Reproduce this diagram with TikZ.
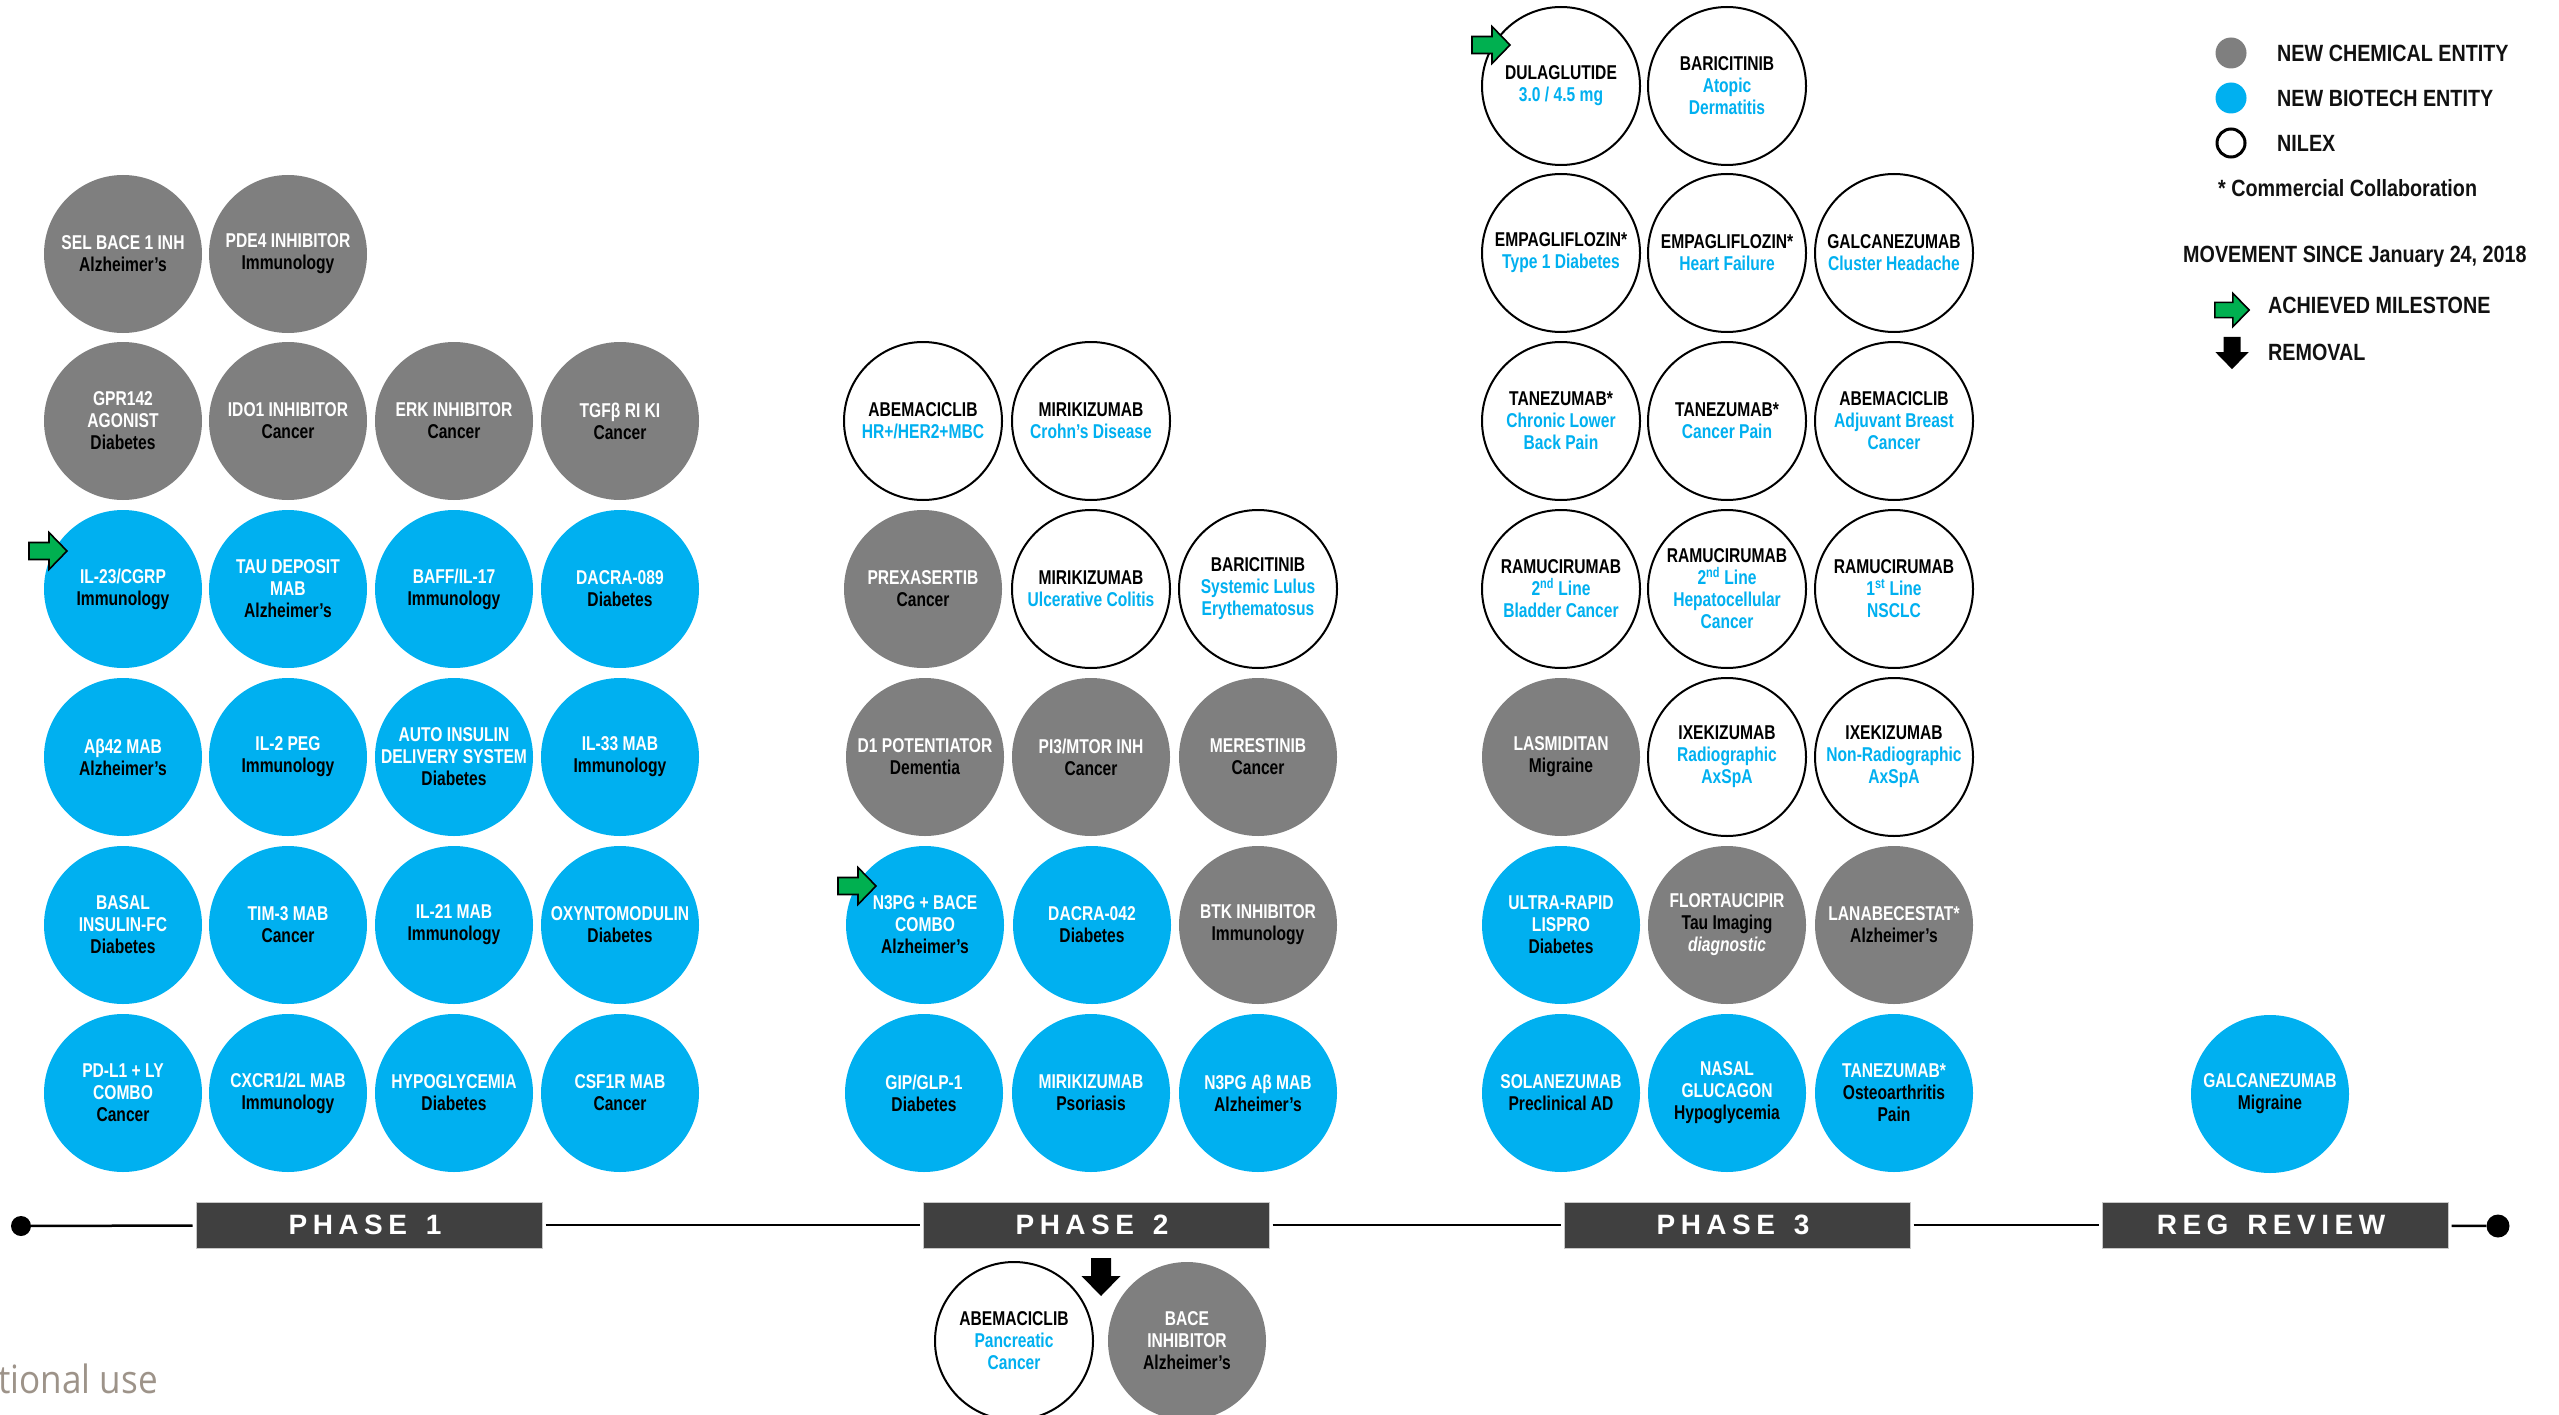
\documentclass[tikz,border=0pt]{standalone}
\usepackage{fontspec}
\newfontfamily\cf{Liberation Sans}[FakeStretch=0.78]
\newfontfamily\lf{Liberation Sans}[FakeStretch=0.84]
\newfontfamily\pf{Liberation Sans}
\newfontfamily\ff{Open Sans}[FakeStretch=0.9]
\definecolor{nceGray}{HTML}{7F7F7F}
\definecolor{nbeBlue}{HTML}{00B0F0}
\definecolor{txtBlue}{HTML}{00B0F0}
\definecolor{arrowGreen}{HTML}{00B050}
\definecolor{boxDark}{HTML}{404040}
\definecolor{boxEdge}{HTML}{C8C8C8}
\definecolor{legText}{HTML}{111111}
\definecolor{footGray}{HTML}{9D9389}
\newcommand\txW[1]{\textcolor{white}{#1}}
\newcommand\txK[1]{\textcolor{black}{#1}}
\newcommand\txB[1]{\textcolor{txtBlue}{#1}}
\newcommand\lsk{\kern5.5pt}
\begin{document}
\begin{tikzpicture}[x=1pt,y=-1pt]
\tikzset{
  pill/.style={circle, minimum size=158pt, inner sep=0pt, align=center, font=\cf\bfseries\fontsize{20}{22}\selectfont},
  nce/.style={pill, fill=nceGray},
  nbe/.style={pill, fill=nbeBlue},
  nilex/.style={pill, draw=black, line width=2pt, fill=white},
  phasebox/.style={rectangle, fill=boxDark, draw=boxEdge, line width=1pt, minimum width=346pt, minimum height=46pt, inner sep=0pt, text=white, font=\pf\bfseries\fontsize{28}{30}\selectfont, execute at end node={\kern8pt}},
  tl/.style={line width=2.5pt, black},
  enddot/.style={circle, fill=black, inner sep=0pt},
  legtext/.style={anchor=west, inner sep=0pt, text=legText, font=\lf\bfseries\fontsize{23.5}{26}\selectfont},
  milestone/.pic={\draw[fill=arrowGreen, line width=1.6pt, line join=miter] (-19,-8.5) -- (1,-8.5) -- (1,-18.5) -- (19,0) -- (1,18.5) -- (1,8.5) -- (-19,8.5) -- cycle;},
  removal/.pic={\fill[black] (-10,-19) -- (10,-19) -- (10,-1) -- (19.5,-1) -- (0,19) -- (-19.5,-1) -- (-10,-1) -- cycle;},
}
\useasboundingbox (0,0) rectangle (2559,1415);

% ---------------- PHASE 1 ----------------
\node[nce] (a1) at (123,254) {\txW{SEL BACE 1 INH}\\\txK{Alzheimer’s}};
\node[nce] (a2) at (288,254) {\txW{PDE4 INHIBITOR}\\\txK{Immunology}};

\node[nce] (b1) at (123,421) {\txW{GPR142}\\\txW{AGONIST}\\\txK{Diabetes}};
\node[nce] (b2) at (288,421) {\txW{IDO1 INHIBITOR}\\\txK{Cancer}};
\node[nce] (b3) at (454,421) {\txW{ERK INHIBITOR}\\\txK{Cancer}};
\node[nce] (b4) at (620,421) {\txW{TGFβ RI KI}\\\txK{Cancer}};

\node[nbe] (c1) at (123,589) {\txW{IL-23/CGRP}\\\txK{Immunology}};
\node[nbe] (c2) at (288,589) {\txW{TAU DEPOSIT}\\\txW{MAB}\\\txK{Alzheimer’s}};
\node[nbe] (c3) at (454,589) {\txW{BAFF/IL-17}\\\txK{Immunology}};
\node[nbe] (c4) at (620,589) {\txW{DACRA-089}\\\txK{Diabetes}};

\node[nbe] (d1) at (123,757) {\txW{Aβ42 MAB}\\\txK{Alzheimer’s}};
\node[nbe] (d2) at (288,757) {\txW{IL-2 PEG}\\\txK{Immunology}};
\node[nbe] (d3) at (454,757) {\txW{AUTO INSULIN}\\\txW{DELIVERY SYSTEM}\\\txK{Diabetes}};
\node[nbe] (d4) at (620,757) {\txW{IL-33 MAB}\\\txK{Immunology}};

\node[nbe] (e1) at (123,925) {\txW{BASAL}\\\txW{INSULIN-FC}\\\txK{Diabetes}};
\node[nbe] (e2) at (288,925) {\txW{TIM-3 MAB}\\\txK{Cancer}};
\node[nbe] (e3) at (454,925) {\txW{IL-21 MAB}\\\txK{Immunology}};
\node[nbe] (e4) at (620,925) {\txW{OXYNTOMODULIN}\\\txK{Diabetes}};

\node[nbe] (f1) at (123,1093) {\txW{PD-L1 + LY}\\\txW{COMBO}\\\txK{Cancer}};
\node[nbe] (f2) at (288,1093) {\txW{CXCR1/2L MAB}\\\txK{Immunology}};
\node[nbe] (f3) at (454,1093) {\txW{HYPOGLYCEMIA}\\\txK{Diabetes}};
\node[nbe] (f4) at (620,1093) {\txW{CSF1R MAB}\\\txK{Cancer}};

% ---------------- PHASE 2 ----------------
\node[nilex] (g1) at (923,421) {\txK{ABEMACICLIB}\\\txB{HR+/HER2+MBC}};
\node[nilex] (g2) at (1091,421) {\txK{MIRIKIZUMAB}\\\txB{Crohn’s Disease}};

\node[nce] (h1) at (923,589) {\txW{PREXASERTIB}\\\txK{Cancer}};
\node[nilex] (h2) at (1091,589) {\txK{MIRIKIZUMAB}\\\txB{Ulcerative Colitis}};
\node[nilex] (h3) at (1258,589) {\txK{BARICITINIB}\\\txB{Systemic Lulus}\\\txB{Erythematosus}};

\node[nce] (i1) at (925,757) {\txW{D1 POTENTIATOR}\\\txK{Dementia}};
\node[nce] (i2) at (1091,757) {\txW{PI3/MTOR INH}\\\txK{Cancer}};
\node[nce] (i3) at (1258,757) {\txW{MERESTINIB}\\\txK{Cancer}};

\node[nbe] (j1) at (925,925) {\txW{N3PG + BACE}\\\txW{COMBO}\\\txK{Alzheimer’s}};
\node[nbe] (j2) at (1092,925) {\txW{DACRA-042}\\\txK{Diabetes}};
\node[nce] (j3) at (1258,925) {\txW{BTK INHIBITOR}\\\txK{Immunology}};

\node[nbe] (k1) at (924,1093) {\txW{GIP/GLP-1}\\\txK{Diabetes}};
\node[nbe] (k2) at (1091,1093) {\txW{MIRIKIZUMAB}\\\txK{Psoriasis}};
\node[nbe] (k3) at (1258,1093) {\txW{N3PG Aβ MAB}\\\txK{Alzheimer’s}};

% removed from phase 2
\node[nilex] (r1) at (1014,1341) {\txK{ABEMACICLIB}\\\txB{Pancreatic}\\\txB{Cancer}};
\node[nce] (r2) at (1187,1341) {\txW{BACE}\\\txW{INHIBITOR}\\\txK{Alzheimer’s}};

% ---------------- PHASE 3 ----------------
\node[nilex] (m1) at (1561,86) {\txK{DULAGLUTIDE}\\\txB{3.0 / 4.5 mg}};
\node[nilex] (m2) at (1727,86) {\txK{BARICITINIB}\\\txB{Atopic}\\\txB{Dermatitis}};

\node[nilex] (n1) at (1561,253) {\txK{EMPAGLIFLOZIN*}\\\txB{Type 1 Diabetes}};
\node[nilex] (n2) at (1727,253) {\txK{EMPAGLIFLOZIN*}\\\txB{Heart Failure}};
\node[nilex] (n3) at (1894,253) {\txK{GALCANEZUMAB}\\\txB{Cluster Headache}};

\node[nilex] (o1) at (1561,421) {\txK{TANEZUMAB*}\\\txB{Chronic Lower}\\\txB{Back Pain}};
\node[nilex] (o2) at (1727,421) {\txK{TANEZUMAB*}\\\txB{Cancer Pain}};
\node[nilex] (o3) at (1894,421) {\txK{ABEMACICLIB}\\\txB{Adjuvant Breast}\\\txB{Cancer}};

\node[nilex] (p1) at (1561,589) {\txK{RAMUCIRUMAB}\\\txB{2\textsuperscript{nd} Line}\\\txB{Bladder Cancer}};
\node[nilex] (p2) at (1727,589) {\txK{RAMUCIRUMAB}\\\txB{2\textsuperscript{nd} Line}\\\txB{Hepatocellular}\\\txB{Cancer}};
\node[nilex] (p3) at (1894,589) {\txK{RAMUCIRUMAB}\\\txB{1\textsuperscript{st} Line}\\\txB{NSCLC}};

\node[nce] (q1) at (1561,757) {\txW{LASMIDITAN}\\\txK{Migraine}};
\node[nilex] (q2) at (1727,757) {\txK{IXEKIZUMAB}\\\txB{Radiographic}\\\txB{AxSpA}};
\node[nilex] (q3) at (1894,757) {\txK{IXEKIZUMAB}\\\txB{Non-Radiographic}\\\txB{AxSpA}};

\node[nbe] (s1) at (1561,925) {\txW{ULTRA-RAPID}\\\txW{LISPRO}\\\txK{Diabetes}};
\node[nce] (s2) at (1727,925) {\txW{FLORTAUCIPIR}\\\txK{Tau Imaging}\\\txW{\itshape diagnostic}};
\node[nce] (s3) at (1894,925) {\txW{LANABECESTAT*}\\\txK{Alzheimer’s}};

\node[nbe] (t1) at (1561,1093) {\txW{SOLANEZUMAB}\\\txK{Preclinical AD}};
\node[nbe] (t2) at (1727,1093) {\txW{NASAL}\\\txW{GLUCAGON}\\\txK{Hypoglycemia}};
\node[nbe] (t3) at (1894,1093) {\txW{TANEZUMAB*}\\\txK{Osteoarthritis}\\\txK{Pain}};

% ---------------- REG REVIEW ----------------
\node[nbe] (u1) at (2270,1094) {\txW{GALCANEZUMAB}\\\txK{Migraine}};

% ---------------- milestone arrows ----------------
\pic at (48,551) {milestone};
\pic at (857,886) {milestone};
\pic at (1491,45) {milestone};
\pic at (1101,1277) {removal};

% ---------------- timeline ----------------
\node[enddot, minimum size=20pt] (dotL) at (21,1226) {};
\node[enddot, minimum size=23pt] (dotR) at (2498,1226) {};
\node[phasebox] (ph1) at (369,1225) {P\lsk H\lsk A\lsk S\lsk E\lsk\ \lsk 1};
\node[phasebox] (ph2) at (1096,1225) {P\lsk H\lsk A\lsk S\lsk E\lsk\ \lsk 2};
\node[phasebox] (ph3) at (1737,1225) {P\lsk H\lsk A\lsk S\lsk E\lsk\ \lsk 3};
\node[phasebox] (ph4) at (2275,1225) {R\lsk E\lsk G\lsk\ \lsk R\lsk E\lsk V\lsk I\lsk E\lsk W};
\draw[tl, shorten >=3pt] (dotL) -- (ph1);
\draw[tl, shorten >=3pt, shorten <=3pt] (ph1) -- (ph2);
\draw[tl, shorten >=3pt, shorten <=3pt] (ph2) -- (ph3);
\draw[tl, shorten >=3pt, shorten <=3pt] (ph3) -- (ph4);
\draw[tl, shorten <=3pt] (ph4) -- (dotR);

% ---------------- legend ----------------
\node[circle, fill=nceGray, minimum size=31pt, inner sep=0pt] (lg1) at (2231,53) {};
\node[circle, fill=nbeBlue, minimum size=31pt, inner sep=0pt] (lg2) at (2231,98) {};
\node[circle, draw=black, line width=3pt, minimum size=28pt, inner sep=0pt] (lg3) at (2231,143) {};
\node[legtext] (lt1) at (2277,53) {NEW CHEMICAL ENTITY};
\node[legtext] (lt2) at (2277,98) {NEW BIOTECH ENTITY};
\node[legtext] (lt3) at (2277,143) {NILEX};
\node[legtext] (lt4) at (2218,188) {* Commercial Collaboration};
\node[legtext] (lt5) at (2183,257) {MOVEMENT SINCE January 24, 2018};
\pic[scale=0.9] at (2232,310) {milestone};
\node[legtext] (lt6) at (2268,305) {ACHIEVED MILESTONE};
\pic[scale=0.85] at (2232,353) {removal};
\node[legtext] (lt7) at (2268,352) {REMOVAL};

% ---------------- footer ----------------
\node[anchor=base west, inner sep=0pt, text=footGray, font=\ff\fontsize{39}{41}\selectfont] (foot) at (-2,1393) {tional use};
\end{tikzpicture}
\end{document}
